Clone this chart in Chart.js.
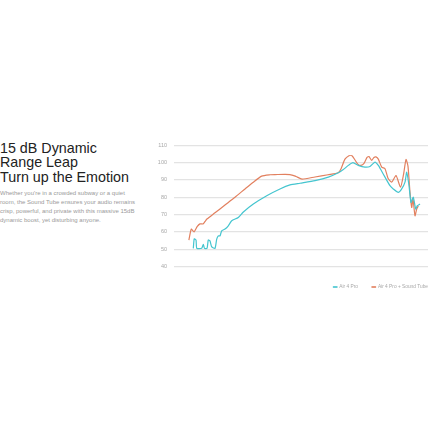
<!DOCTYPE html>
<html>
<head>
<meta charset="utf-8">
<script src="https://cdn.jsdelivr.net/npm/chart.js@4.4.1/dist/chart.umd.min.js"></script>
<style>
  html, body { margin: 0; padding: 0; background: #fff; }
  body { width: 430px; height: 430px; position: relative; overflow: hidden; font-family: "Liberation Sans", Arial, sans-serif; }
  .title { position: absolute; left: 0; top: 140.5px; font-size: 14.3px; line-height: 14.7px; color: #222; white-space: nowrap; }
  .desc { position: absolute; left: 0; top: 188.5px; font-size: 6px; line-height: 9px; color: #9a9a9a; white-space: nowrap; }
  .chart-box { position: absolute; left: 140px; top: 135px; width: 290px; height: 170px; }
</style>
</head>
<body>
<div class="title">15 dB Dynamic<br>Range Leap<br>Turn up the Emotion</div>
<div class="desc">Whether you're in a crowded subway or a quiet<br>room, the Sound Tube ensures your audio remains<br>crisp, powerful, and private with this massive 15dB<br>dynamic boost, yet disturbing anyone.</div>
<div class="chart-box"><canvas id="fr"></canvas></div>
<script>
// frequency response (Hz / dB)
const seriesNames = ["Air 4 Pro", "Air 4 Pro + Sound Tube"];

const tealFreq = [33.8, 34.7, 36.4, 37.2, 42.5, 44.4, 45.8, 49.1, 50.8, 53.2, 55.8, 61, 63.9, 66.7, 69.9, 73.2,
  80.1, 87.6, 96.1, 115, 132, 173, 249, 357, 469, 615, 925, 1330, 1744, 2000, 2290, 2600, 3000, 3610,
  4130, 4730, 5180, 5680, 6210, 7110, 7780, 8920, 9780, 10700, 11210, 11930, 12600, 13410, 14310, 14950, 16090];
const tealDb = [50.5, 56, 55.3, 50.5, 50.5, 52.8, 50.5, 50.5, 55.3, 54.8, 51.3, 50.5, 55.8, 57.7, 57.7, 60.6,
  61.6, 63.5, 66.4, 68.3, 71.5, 76.1, 80.9, 84.8, 87.1, 88.1, 89.6, 91.6, 94.1, 96, 98.4, 100, 98.4, 97.4,
  97.8, 100.3, 98.4, 95, 91.6, 86.7, 84.8, 82.8, 84.8, 88.7, 94.5, 86.7, 77, 80, 73.2, 75.1, 76.1];

const orangeFreq = [30, 32, 34.5, 37.5, 40.5, 44, 46.5, 49, 61, 80, 105, 138, 171, 217, 272, 312, 469, 552,
  650, 925, 1320, 1740, 1880, 2090, 2330, 2530, 2750, 2980, 3230, 3510, 3810, 4020, 4320, 4600, 4860, 5180,
  5680, 6210, 6740, 7450, 8380, 9470, 10270, 11000, 11600, 12260, 12840, 13300, 14040, 14710, 15360];
const orangeDb = [55.3, 61.6, 60, 63, 64.6, 64.6, 66, 67.4, 71, 75.5, 80, 84.8, 88.5, 92.2, 93, 93.1, 93.1, 92,
  90.5, 91.7, 93, 94.1, 96.5, 102, 104, 104, 101.5, 99, 98.4, 99.5, 103, 103.5, 101.3, 103, 103.3, 102,
  97.4, 96.5, 91, 88.7, 92.5, 85.8, 93, 101.8, 98, 82.8, 74.1, 79, 69.3, 73.2, 75];

const yMin = 40, yMax = 110, yStep = 10;

const TEAL = "#45c5cf";
const ORANGE = "#e2805f";
const LEGEND_PAD = 14;

function points(xs, ys) {
  return xs.map((x, i) => ({ x: x, y: ys[i] }));
}

// legend sits flush with the right edge in the original
const legendFlush = {
  id: "legendFlush",
  afterLayout(chart) {
    chart.legend.left += LEGEND_PAD;
    chart.legend.right += LEGEND_PAD;
  },
};

new Chart(document.getElementById("fr"), {
  type: "line",
  data: {
    datasets: [
      {
        label: seriesNames[0],
        data: points(tealFreq, tealDb),
        borderColor: TEAL,
        backgroundColor: TEAL,
        borderWidth: 1.2,
        pointRadius: 0,
        tension: 0.2,
      },
      {
        label: seriesNames[1],
        data: points(orangeFreq, orangeDb),
        borderColor: ORANGE,
        backgroundColor: ORANGE,
        borderWidth: 1.2,
        pointRadius: 0,
        tension: 0.2,
      },
    ],
  },
  plugins: [legendFlush],
  options: {
    responsive: true,
    maintainAspectRatio: false,
    animation: false,
    layout: { padding: { top: 10, right: 2, left: 0, bottom: 5.6 } },
    plugins: {
      tooltip: { enabled: false },
      legend: {
        position: "bottom",
        align: "end",
        title: { display: true, text: "", font: { size: 1 }, padding: { top: 2.9, bottom: 0 } },
        labels: {
          boxWidth: 3.5,
          boxHeight: 0.4,
          padding: LEGEND_PAD,
          color: "#a8a8a8",
          font: { family: "Liberation Sans", size: 4.8 },
        },
      },
    },
    scales: {
      x: {
        type: "logarithmic",
        min: 20,
        max: 20000,
        display: false,
      },
      y: {
        min: yMin,
        max: yMax,
        border: { display: false },
        afterFit: (scale) => { scale.width = 34; },
        ticks: {
          stepSize: yStep,
          padding: 7,
          color: "#a8a8a8",
          font: { family: "Liberation Sans", size: 5.5 },
        },
        grid: {
          color: "#e3e3e3",
          lineWidth: 1.3,
          drawTicks: false,
        },
      },
    },
  },
});
</script>
</body>
</html>
